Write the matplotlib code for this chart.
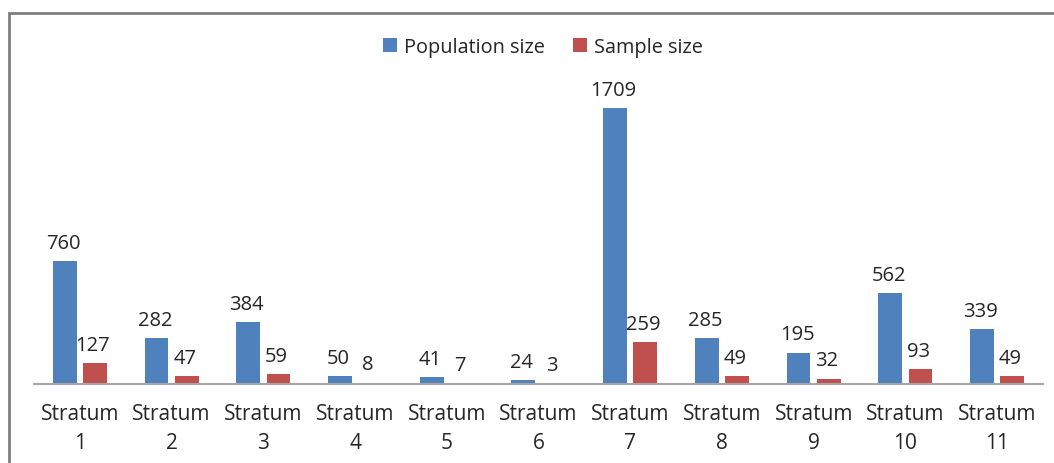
import numpy as np
import matplotlib
matplotlib.use("Agg")
from matplotlib import pyplot as plt
from matplotlib.patches import Rectangle

categories = ["Stratum\n%d" % i for i in range(1, 12)]
population = [760, 282, 384, 50, 41, 24, 1709, 285, 195, 562, 339]
sample = [127, 47, 59, 8, 7, 3, 259, 49, 32, 93, 49]

blue = "#4F81BD"
red = "#C0504D"

plt.rcParams['font.family'] = ['Open Sans', 'DejaVu Sans']

W, H = 1054, 464
fig = plt.figure(figsize=(W / 100, H / 100), dpi=100)

# outer chart border (cropped on right/bottom in the reference)
fig.patches.append(Rectangle((9 / W, -0.1), 1.2, (H - 14) / H + 0.1,
                             transform=fig.transFigure, fill=False,
                             edgecolor="#7f7f7f", linewidth=2))

left, right = 34 / W, 1043 / W
bottom = (H - 385) / H
top = (H - 62) / H
ax = fig.add_axes([left, bottom, right - left, top - bottom])

x = np.arange(len(categories))
bw = 0.26
off = 0.165
ax.bar(x - off, population, bw, color=blue, label="Population size")
ax.bar(x + off, sample, bw, color=red, label="Sample size")

for xi, p, s in zip(x, population, sample):
    ax.annotate(str(p), (xi - off, p), xytext=(-1, 6), textcoords="offset points",
                ha="center", va="bottom", fontsize=14.5, color="#262626")
    ax.annotate(str(s), (xi + off, s), xytext=(-1.5, 6), textcoords="offset points",
                ha="center", va="bottom", fontsize=14.5, color="#262626")

ax.set_xlim(-0.5, len(categories) - 0.5)
ax.set_ylim(0, 2000)
ax.set_xticks(x)
ax.set_xticklabels(categories, fontsize=15, color="#262626", linespacing=1.5)
ax.tick_params(axis="x", length=0, pad=14)
ax.set_yticks([])
for side in ["top", "right", "left"]:
    ax.spines[side].set_visible(False)
ax.spines["bottom"].set_color("#a6a6a6")
ax.spines["bottom"].set_linewidth(1.5)

fig.legend(loc="center", bbox_to_anchor=(543 / W, (H - 48) / H), ncol=2,
           frameon=False, fontsize=14.3, handlelength=0.7, handleheight=0.7,
           handletextpad=0.35, columnspacing=1.4, labelcolor="#262626")

fig.savefig("out.png", dpi=100)
